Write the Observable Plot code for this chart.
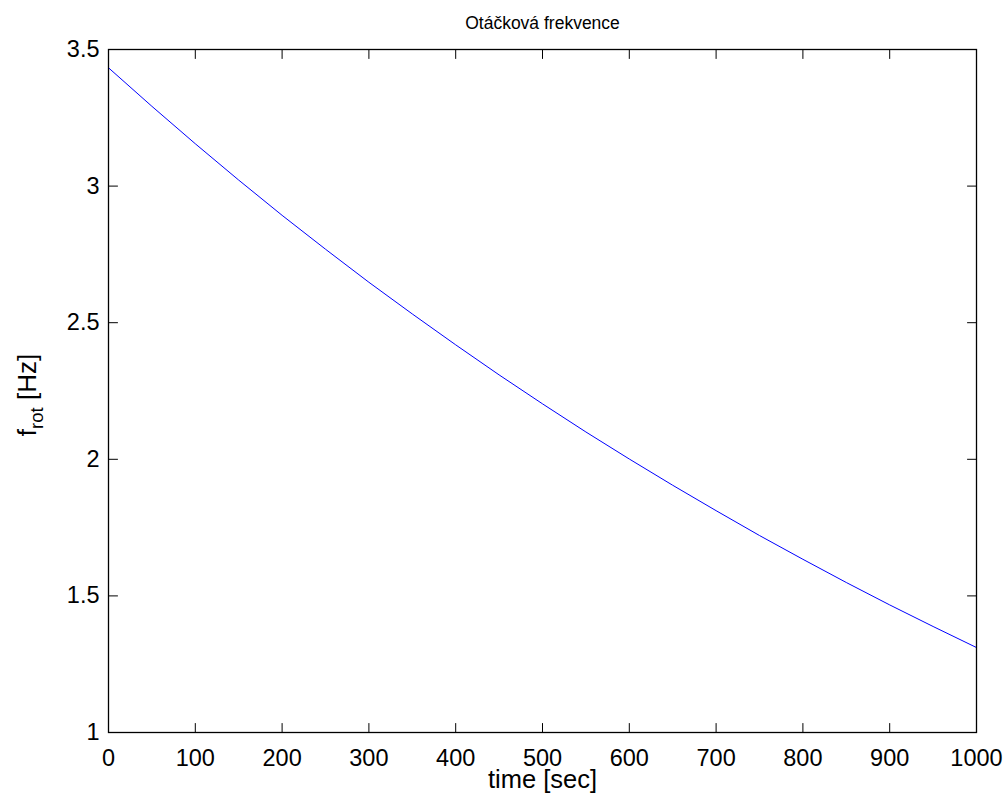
<!DOCTYPE html>
<html><head><meta charset="utf-8">
<script src="https://cdn.jsdelivr.net/npm/d3@7"></script>
<script src="https://cdn.jsdelivr.net/npm/@observablehq/plot@0.6"></script>
<style>html,body{margin:0;padding:0;background:#fff} svg{display:block}</style>
</head><body><div id="chart"></div>
<script>
const time = [0, 50, 100, 150, 200, 250, 300, 350, 400, 450, 500, 550, 600, 650, 700, 750, 800, 850, 900, 950, 1000];
const freq = [3.433, 3.292, 3.155, 3.022, 2.893, 2.769, 2.648, 2.532, 2.419, 2.309, 2.203, 2.100, 2.001, 1.905, 1.812, 1.721, 1.634, 1.549, 1.467, 1.388, 1.311];
const xTicks = [0, 100, 200, 300, 400, 500, 600, 700, 800, 900, 1000];
const yTicks = [1, 1.5, 2, 2.5, 3, 3.5];
const title = "Otáčková frekvence";
const xLabel = "time [sec]";
const yLabelMain = "f";
const yLabelSub = "rot";
const yLabelUnit = " [Hz]";

const data = time.map((t, i) => ({t, f: freq[i]}));
const font = "'Liberation Sans', Arial, Helvetica, sans-serif";
const xMin = xTicks[0], xMax = xTicks[xTicks.length - 1];
const yMin = yTicks[0], yMax = yTicks[yTicks.length - 1];
const tickShape = {draw(context, l) { context.moveTo(0, 0); context.lineTo(0, -l); }};
const tickOpts = {length: 9, anchor: "start", shape: tickShape, stroke: "#000", strokeWidth: 1};

const plot = Plot.plot({
  width: 1008, height: 805,
  marginLeft: 108, marginRight: 32, marginTop: 49, marginBottom: 73,
  style: {fontFamily: font, background: "#fff", color: "#000", overflow: "visible"},
  x: {domain: [xMin, xMax]},
  y: {domain: [yMin, yMax]},
  marks: [
    Plot.axisX(xTicks, {anchor: "bottom", tickSize: 0, tickPadding: 17, fontSize: 23.5, label: null, tickFormat: d => String(d)}),
    Plot.axisY(yTicks, {anchor: "left", tickSize: 0, tickPadding: 9, fontSize: 23.5, label: null, tickFormat: d => String(d)}),
    Plot.vector(xTicks, {x: d => d, y: () => yMin, rotate: 0, ...tickOpts}),
    Plot.vector(xTicks, {x: d => d, y: () => yMax, rotate: 180, ...tickOpts}),
    Plot.vector(yTicks, {x: () => xMin, y: d => d, rotate: 90, ...tickOpts}),
    Plot.vector(yTicks, {x: () => xMax, y: d => d, rotate: 270, ...tickOpts}),
    Plot.line(data, {x: "t", y: "f", stroke: "#0000ff", strokeWidth: 1}),
    Plot.frame({stroke: "#000", strokeWidth: 1.3}),
    Plot.text([title], {frameAnchor: "top", dy: -33, fontSize: 17.5, text: d => d, fill: "#000"}),
    Plot.text([xLabel], {frameAnchor: "bottom", dy: 55, fontSize: 25.5, text: d => d, fill: "#000"})
  ]
});

const svg = d3.select(plot);
const yl = svg.append("text")
  .attr("transform", "translate(36,395) rotate(-90)")
  .attr("text-anchor", "middle")
  .attr("font-family", font)
  .attr("font-size", 26)
  .attr("fill", "#000");
yl.append("tspan").text(yLabelMain);
yl.append("tspan").attr("font-size", 18.5).attr("dy", 6.5).text(yLabelSub);
yl.append("tspan").attr("dy", -6.5).text(yLabelUnit);

document.getElementById("chart").append(plot);
</script>
</body></html>
